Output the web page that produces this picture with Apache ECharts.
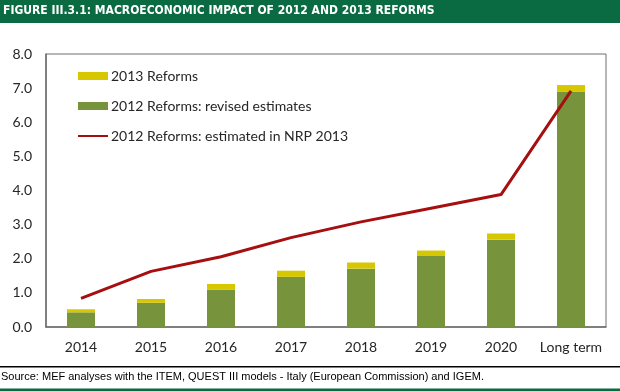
<!DOCTYPE html>
<html><head><meta charset="utf-8">
<script src="https://cdn.jsdelivr.net/npm/echarts@6/dist/echarts.min.js"></script>
<style>html,body{margin:0;padding:0;background:#fff}#c{width:620px;height:391px}</style>
</head><body><div id="c"></div>
<script>
const categories = ['2014','2015','2016','2017','2018','2019','2020','Long term'];
const revised2012 = [0.43, 0.71, 1.09, 1.47, 1.71, 2.08, 2.56, 6.90];
const reforms2013 = [0.09, 0.11, 0.17, 0.18, 0.18, 0.16, 0.18, 0.19];
const nrp2013 = [0.84, 1.63, 2.06, 2.62, 3.08, 3.48, 3.88, 6.92];
const yTicks = [0, 1, 2, 3, 4, 5, 6, 7, 8];
const titleText = 'FIGURE III.3.1: MACROECONOMIC IMPACT OF 2012 AND 2013 REFORMS';
const sourceText = 'Source: MEF analyses with the ITEM, QUEST III models - Italy (European Commission) and IGEM.';

const chart = echarts.init(document.getElementById('c'), null, {renderer:'canvas'});
const font = 'Lato';
chart.setOption({
  animation: false,
  backgroundColor: '#fff',
  grid: {left: 46, right: 14, top: 54, bottom: 64, show: true, borderColor: '#6e6e6e', borderWidth: 1},
  legend: {
    orient: 'vertical', left: 72, top: 64, itemWidth: 30, itemHeight: 8, itemGap: 16,
    textStyle: {fontFamily: font, fontSize: 14, color: '#262626', lineHeight: 14, padding: [0,0,0,-2]},
    data: [
      {name: '2013 Reforms', icon: 'rect'},
      {name: '2012 Reforms: revised estimates', icon: 'rect'},
      {name: '2012 Reforms: estimated in NRP 2013', itemStyle: {opacity: 0}}
    ]
  },
  xAxis: {
    type: 'category', data: categories,
    axisLine: {lineStyle: {color: '#6e6e6e', width: 1.5}},
    axisTick: {show: false},
    axisLabel: {fontFamily: font, fontSize: 14, color: '#262626', margin: 13, interval: 0}
  },
  yAxis: {
    type: 'value', min: 0, max: 8, interval: 1,
    axisLine: {show: true, lineStyle: {color: '#6e6e6e', width: 1.5}},
    axisTick: {show: false},
    splitLine: {show: false},
    axisLabel: {fontFamily: font, fontSize: 14, color: '#262626', margin: 14,
      formatter: v => yTicks.includes(v) ? v.toFixed(1) : ''}
  },
  series: [
    {name: '2012 Reforms: revised estimates', type: 'bar', stack: 's', data: revised2012, barWidth: 28,
     itemStyle: {color: '#77933c'}},
    {name: '2013 Reforms', type: 'bar', stack: 's', data: reforms2013, barWidth: 28,
     itemStyle: {color: '#d6c700'}},
    {name: '2012 Reforms: estimated in NRP 2013', type: 'line', data: nrp2013, symbol: 'none',
     lineStyle: {color: '#a50f0f', width: 3}, itemStyle: {color: '#a50f0f', opacity: 0}, z: 5}
  ],
  graphic: [
    {type: 'rect', shape: {x: 0, y: 0, width: 620, height: 23}, style: {fill: '#0a6b42'}},
    {type: 'text', left: 3, top: 5, style: {text: titleText, fill: '#fff', font: 'bold 12px "DejaVu Sans Condensed"'}},
    {type: 'rect', shape: {x: 0, y: 366, width: 620, height: 1.5}, style: {fill: '#000'}},
    {type: 'text', left: 1, top: 371, style: {text: sourceText, fill: '#000', font: '11px "Liberation Sans"'}},
    {type: 'rect', shape: {x: 0, y: 388.5, width: 620, height: 3}, style: {fill: '#0a6b42'}}
  ]
});
</script></body></html>
